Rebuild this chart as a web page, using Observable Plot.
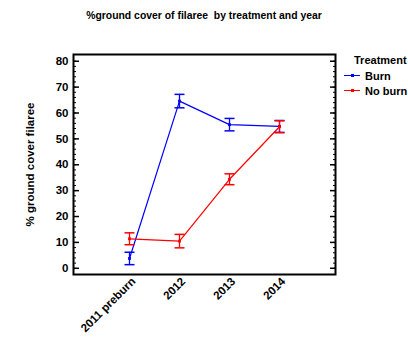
<!DOCTYPE html>
<html><head><meta charset="utf-8">
<script src="https://cdn.jsdelivr.net/npm/d3@7"></script>
<script src="https://cdn.jsdelivr.net/npm/@observablehq/plot@0.6"></script>
<style>
body{margin:0;background:#fff;font-family:"Liberation Sans",Arial,sans-serif;}
#wrap{position:relative;width:408px;height:338px;}
#title{position:absolute;left:0;width:408px;top:10px;text-align:center;font-size:10.4px;font-weight:bold;}
#legend{position:absolute;left:344px;top:54px;font-size:11px;font-weight:bold;}
#legend .row{display:flex;align-items:center;height:15px;}
#legend .sw{width:16px;height:1.3px;margin-right:5px;position:relative;}
#legend .sw i{position:absolute;left:7px;top:-1px;width:3px;height:3px;}
</style></head>
<body><div id="wrap"><div id="title">%ground cover of filaree&nbsp; by treatment and year</div>
<div id="legend"><div style="padding-left:10px;height:14px">Treatment</div>
<div class="row"><span class="sw" style="background:#0000ff"><i style="background:#0000ff"></i></span>Burn</div>
<div class="row"><span class="sw" style="background:#ff0000"><i style="background:#ff0000"></i></span>No burn</div></div>
</div>
<script>
const years = ["2011 preburn", "2012", "2013", "2014"];
const treatments = ["Burn", "No burn"];
const burnMean = [3.8, 64.6, 55.5, 54.8];
const burnErr = [2.4, 2.6, 2.4, 2.3];
const noBurnMean = [11.4, 10.5, 34.4, 54.7];
const noBurnErr = [2.3, 2.6, 2.1, 2.3];
const colors = ["#0000ff", "#ff0000"];

const data = [];
years.forEach((y, i) => {
  data.push({year: y, t: "Burn", m: burnMean[i], e: burnErr[i]});
  data.push({year: y, t: "No burn", m: noBurnMean[i], e: noBurnErr[i]});
});
const lo = d => d.m - d.e, hi = d => d.m + d.e;
const capSymbol = {draw(ctx, size) { const w = 5; ctx.moveTo(-w, 0); ctx.lineTo(w, 0); }};

const chart = Plot.plot({
  width: 408, height: 338,
  marginLeft: 73, marginRight: 73, marginTop: 54, marginBottom: 64,
  style: {fontFamily: "Liberation Sans, Arial, sans-serif", fontWeight: "bold", fontSize: "11px", color: "black"},
  x: {type: "point", domain: years, padding: 1.12, label: null},
  y: {domain: [-2.4, 82.6], label: null},
  color: {domain: treatments, range: colors},
  marks: [
    Plot.axisY({ticks: d3.range(0, 81, 10), tickSize: 0, tickPadding: 5, fontSize: 11.5}),
    Plot.axisY({ticks: d3.range(0, 81, 10), tickSize: -6, text: null, strokeWidth: 1.5}),
    Plot.axisY({ticks: d3.range(0, 82, 2), tickSize: -3, text: null}),
    Plot.axisY({anchor: "right", ticks: d3.range(0, 81, 10), tickSize: -6, text: null, strokeWidth: 1.5}),
    Plot.axisY({anchor: "right", ticks: d3.range(0, 82, 2), tickSize: -3, text: null}),
    Plot.axisX({tickSize: 0, tickPadding: 6, tickRotate: -45, fontSize: 11.5, dx: 4, dy: -1}),
    Plot.text(["% ground cover filaree"], {frameAnchor: "left", textAnchor: "middle", rotate: -90, dx: -43, fontSize: 11.5, fontWeight: "bold"}),
    Plot.frame({stroke: "black", strokeWidth: 2}),
    Plot.line(data, {x: "year", y: "m", z: "t", stroke: "t", strokeWidth: 1.2}),
    Plot.ruleX(data, {x: "year", y1: lo, y2: hi, stroke: "t", strokeWidth: 1.3}),
    Plot.dot(data, {x: "year", y: lo, stroke: "t", strokeWidth: 1.5, symbol: capSymbol}),
    Plot.dot(data, {x: "year", y: hi, stroke: "t", strokeWidth: 1.5, symbol: capSymbol}),
    Plot.dot(data, {x: "year", y: "m", fill: "t", symbol: "square", r: 1.6})
  ]
});
document.getElementById("wrap").prepend(chart);
chart.style.position = "absolute"; chart.style.left = "0"; chart.style.top = "0";
</script></body></html>
